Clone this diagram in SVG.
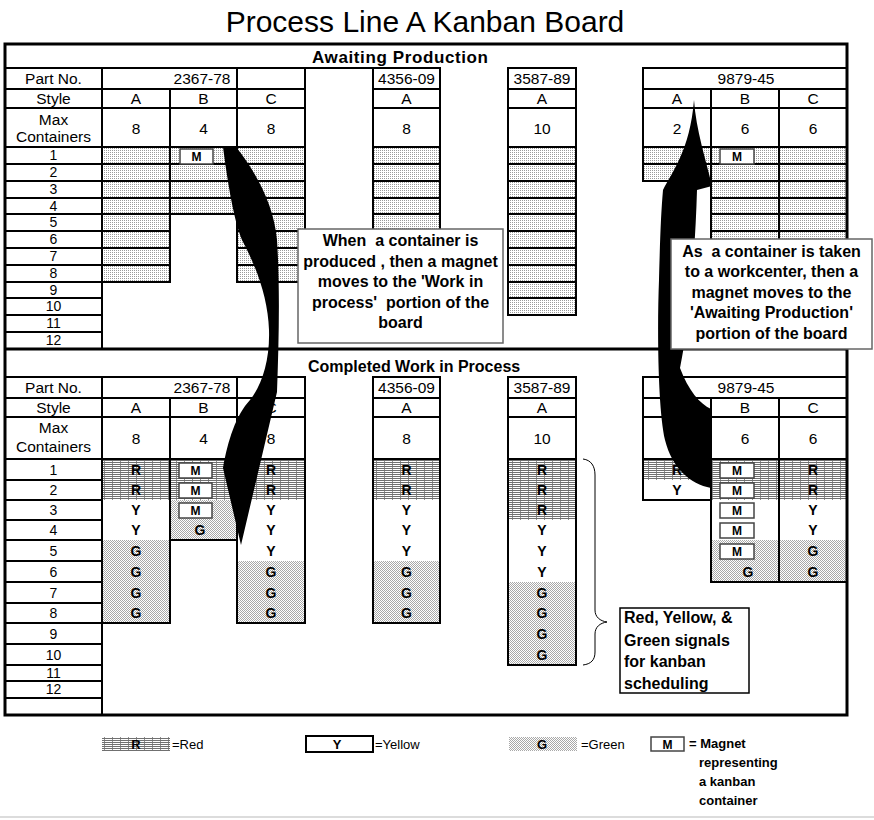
<svg xmlns="http://www.w3.org/2000/svg" width="874" height="820" viewBox="0 0 874 820">
<defs>
<pattern id="pA" width="2" height="2" patternUnits="userSpaceOnUse"><rect width="2" height="2" fill="#fff"/><rect width="1" height="1" fill="#9a9a9a"/></pattern>
<pattern id="pG" width="2" height="2" patternUnits="userSpaceOnUse"><rect width="2" height="2" fill="#fff"/><rect width="1" height="1" fill="#a8a8a8"/><rect x="1" y="1" width="1" height="1" fill="#a8a8a8"/></pattern>
<pattern id="pR" width="8" height="2" patternUnits="userSpaceOnUse"><rect width="8" height="2" fill="#fff"/><rect width="8" height="1" fill="#707070"/><rect y="1" width="1" height="1" fill="#909090"/></pattern>
<style>
.c{fill:#fff;stroke:#000;stroke-width:2}
.a{fill:url(#pA);stroke:#000;stroke-width:2}
.o{fill:none;stroke:#000;stroke-width:2}
.fr{fill:url(#pR)}
.fg{fill:url(#pG)}
text{font-family:"Liberation Sans",Arial,Helvetica,sans-serif;fill:#000}
.t{font-size:15.5px;text-anchor:middle}
.n{font-size:14px;text-anchor:middle}
.s{font-size:14px;font-weight:bold;text-anchor:middle}
.mb{fill:#fff;stroke:#444;stroke-width:1.5}
.mt{font-size:12px;font-weight:bold;text-anchor:middle}
.h{font-size:16px;font-weight:bold}
.cb{fill:#fff;stroke:#666;stroke-width:1.5}
.ct{font-size:16px;font-weight:bold;text-anchor:middle}
.ar{fill:#000}
.lg{font-size:13px}
.lb{font-size:13px;font-weight:bold}
</style>
</defs>
<rect width="874" height="820" fill="#fff"/>

<g id="title">
<text x="425" y="32" style="font-size:30px;text-anchor:middle">Process Line A Kanban Board</text>
</g>

<g id="awaiting-production">
<text class="h" x="312" y="63" style="font-size:17px" textLength="176">Awaiting Production</text>
<rect class="c" x="5" y="68" width="97" height="21"/>
<rect class="c" x="5" y="89" width="97" height="19"/>
<rect class="c" x="5" y="108" width="97" height="39"/>
<rect class="c" x="5" y="147" width="97" height="17"/>
<rect class="c" x="5" y="164" width="97" height="17"/>
<rect class="c" x="5" y="181" width="97" height="17"/>
<rect class="c" x="5" y="198" width="97" height="16"/>
<rect class="c" x="5" y="214" width="97" height="17"/>
<rect class="c" x="5" y="231" width="97" height="17"/>
<rect class="c" x="5" y="248" width="97" height="17"/>
<rect class="c" x="5" y="265" width="97" height="17"/>
<rect class="c" x="5" y="282" width="97" height="16"/>
<rect class="c" x="5" y="298" width="97" height="17"/>
<rect class="c" x="5" y="315" width="97" height="17"/>
<rect class="c" x="5" y="332" width="97" height="17"/>
<text class="t" x="53.5" y="84">Part No.</text>
<text class="t" x="53.5" y="104">Style</text>
<text class="t" x="53.5" y="125">Max</text>
<text class="t" x="53.5" y="142">Containers</text>
<text class="n" x="53.5" y="160">1</text>
<text class="n" x="53.5" y="177">2</text>
<text class="n" x="53.5" y="194">3</text>
<text class="n" x="53.5" y="210.5">4</text>
<text class="n" x="53.5" y="227">5</text>
<text class="n" x="53.5" y="244">6</text>
<text class="n" x="53.5" y="261">7</text>
<text class="n" x="53.5" y="278">8</text>
<text class="n" x="53.5" y="294.5">9</text>
<text class="n" x="53.5" y="311">10</text>
<text class="n" x="53.5" y="328">11</text>
<text class="n" x="53.5" y="345">12</text>
<rect class="c" x="102" y="68" width="135" height="21"/>
<rect class="c" x="237" y="68" width="68" height="21"/>
<rect class="c" x="102" y="89" width="68" height="19"/>
<rect class="c" x="170" y="89" width="67" height="19"/>
<rect class="c" x="237" y="89" width="68" height="19"/>
<rect class="c" x="102" y="108" width="68" height="39"/>
<rect class="c" x="170" y="108" width="67" height="39"/>
<rect class="c" x="237" y="108" width="68" height="39"/>
<text class="t" x="202" y="84">2367-78</text>
<text class="t" x="136" y="104">A</text>
<text class="t" x="203.5" y="104">B</text>
<text class="t" x="271" y="104">C</text>
<text class="t" x="136" y="134">8</text>
<text class="t" x="203.5" y="134">4</text>
<text class="t" x="271" y="134">8</text>
<rect class="a" x="102" y="147" width="68" height="17"/>
<rect class="a" x="102" y="164" width="68" height="17"/>
<rect class="a" x="102" y="181" width="68" height="17"/>
<rect class="a" x="102" y="198" width="68" height="16"/>
<rect class="a" x="102" y="214" width="68" height="17"/>
<rect class="a" x="102" y="231" width="68" height="17"/>
<rect class="a" x="102" y="248" width="68" height="17"/>
<rect class="a" x="102" y="265" width="68" height="17"/>
<rect class="a" x="170" y="147" width="67" height="17"/>
<rect class="a" x="170" y="164" width="67" height="17"/>
<rect class="a" x="170" y="181" width="67" height="17"/>
<rect class="a" x="170" y="198" width="67" height="16"/>
<rect class="a" x="237" y="147" width="68" height="17"/>
<rect class="a" x="237" y="164" width="68" height="17"/>
<rect class="a" x="237" y="181" width="68" height="17"/>
<rect class="a" x="237" y="198" width="68" height="16"/>
<rect class="a" x="237" y="214" width="68" height="17"/>
<rect class="a" x="237" y="231" width="68" height="17"/>
<rect class="a" x="237" y="248" width="68" height="17"/>
<rect class="a" x="237" y="265" width="68" height="17"/>
<rect class="o" x="305" y="68" width="68" height="214"/>
<rect class="c" x="373" y="68" width="67" height="21"/>
<rect class="c" x="373" y="89" width="67" height="19"/>
<rect class="c" x="373" y="108" width="67" height="39"/>
<text class="t" x="406.5" y="84">4356-09</text>
<text class="t" x="406.5" y="104">A</text>
<text class="t" x="406.5" y="134">8</text>
<rect class="a" x="373" y="147" width="67" height="17"/>
<rect class="a" x="373" y="164" width="67" height="17"/>
<rect class="a" x="373" y="181" width="67" height="17"/>
<rect class="a" x="373" y="198" width="67" height="16"/>
<rect class="a" x="373" y="214" width="67" height="17"/>
<rect class="a" x="373" y="231" width="67" height="17"/>
<rect class="a" x="373" y="248" width="67" height="17"/>
<rect class="a" x="373" y="265" width="67" height="17"/>
<rect class="c" x="508" y="68" width="68" height="21"/>
<rect class="c" x="508" y="89" width="68" height="19"/>
<rect class="c" x="508" y="108" width="68" height="39"/>
<text class="t" x="542" y="84">3587-89</text>
<text class="t" x="542" y="104">A</text>
<text class="t" x="542" y="134">10</text>
<rect class="a" x="508" y="147" width="68" height="17"/>
<rect class="a" x="508" y="164" width="68" height="17"/>
<rect class="a" x="508" y="181" width="68" height="17"/>
<rect class="a" x="508" y="198" width="68" height="16"/>
<rect class="a" x="508" y="214" width="68" height="17"/>
<rect class="a" x="508" y="231" width="68" height="17"/>
<rect class="a" x="508" y="248" width="68" height="17"/>
<rect class="a" x="508" y="265" width="68" height="17"/>
<rect class="a" x="508" y="282" width="68" height="16"/>
<rect class="a" x="508" y="298" width="68" height="17"/>
<rect class="c" x="643" y="68" width="204" height="21"/>
<rect class="c" x="643" y="89" width="68" height="19"/>
<rect class="c" x="711" y="89" width="68" height="19"/>
<rect class="c" x="779" y="89" width="68" height="19"/>
<rect class="c" x="643" y="108" width="68" height="39"/>
<rect class="c" x="711" y="108" width="68" height="39"/>
<rect class="c" x="779" y="108" width="68" height="39"/>
<text class="t" x="746" y="84">9879-45</text>
<text class="t" x="677" y="104">A</text>
<text class="t" x="745" y="104">B</text>
<text class="t" x="813" y="104">C</text>
<text class="t" x="677" y="134">2</text>
<text class="t" x="745" y="134">6</text>
<text class="t" x="813" y="134">6</text>
<rect class="a" x="643" y="147" width="68" height="17"/>
<rect class="a" x="643" y="164" width="68" height="17"/>
<rect class="a" x="711" y="147" width="68" height="17"/>
<rect class="a" x="711" y="164" width="68" height="17"/>
<rect class="a" x="711" y="181" width="68" height="17"/>
<rect class="a" x="711" y="198" width="68" height="16"/>
<rect class="a" x="711" y="214" width="68" height="17"/>
<rect class="a" x="711" y="231" width="68" height="17"/>
<rect class="a" x="779" y="147" width="68" height="17"/>
<rect class="a" x="779" y="164" width="68" height="17"/>
<rect class="a" x="779" y="181" width="68" height="17"/>
<rect class="a" x="779" y="198" width="68" height="16"/>
<rect class="a" x="779" y="214" width="68" height="17"/>
<rect class="a" x="779" y="231" width="68" height="17"/>
<rect class="mb" x="180" y="149" width="33" height="15"/>
<text class="mt" x="196.5" y="161">M</text>
<rect class="mb" x="720" y="149" width="34" height="15"/>
<text class="mt" x="737" y="161">M</text>
</g>

<g id="completed-wip">
<text class="h" x="308" y="372">Completed Work in Process</text>
<rect class="c" x="5" y="377" width="97" height="21"/>
<rect class="c" x="5" y="398" width="97" height="19"/>
<rect class="c" x="5" y="417" width="97" height="42"/>
<rect class="c" x="5" y="459" width="97" height="21"/>
<rect class="c" x="5" y="480" width="97" height="20"/>
<rect class="c" x="5" y="500" width="97" height="20"/>
<rect class="c" x="5" y="520" width="97" height="20"/>
<rect class="c" x="5" y="540" width="97" height="21"/>
<rect class="c" x="5" y="561" width="97" height="21"/>
<rect class="c" x="5" y="582" width="97" height="21"/>
<rect class="c" x="5" y="603" width="97" height="20"/>
<rect class="c" x="5" y="623" width="97" height="21"/>
<rect class="c" x="5" y="644" width="97" height="21"/>
<rect class="c" x="5" y="665" width="97" height="16"/>
<rect class="c" x="5" y="681" width="97" height="17"/>
<rect class="c" x="5" y="698" width="97" height="17"/>
<text class="t" x="53.5" y="393">Part No.</text>
<text class="t" x="53.5" y="413">Style</text>
<text class="t" x="53.5" y="433">Max</text>
<text class="t" x="53.5" y="452">Containers</text>
<text class="n" x="53.5" y="474.5">1</text>
<text class="n" x="53.5" y="495">2</text>
<text class="n" x="53.5" y="515">3</text>
<text class="n" x="53.5" y="535">4</text>
<text class="n" x="53.5" y="555.5">5</text>
<text class="n" x="53.5" y="576.5">6</text>
<text class="n" x="53.5" y="597.5">7</text>
<text class="n" x="53.5" y="618">8</text>
<text class="n" x="53.5" y="638.5">9</text>
<text class="n" x="53.5" y="659.5">10</text>
<text class="n" x="53.5" y="677.5">11</text>
<text class="n" x="53.5" y="694">12</text>
<rect class="c" x="102" y="377" width="135" height="21"/>
<rect class="c" x="237" y="377" width="68" height="21"/>
<rect class="c" x="102" y="398" width="68" height="19"/>
<rect class="c" x="170" y="398" width="67" height="19"/>
<rect class="c" x="237" y="398" width="68" height="19"/>
<rect class="c" x="102" y="417" width="68" height="42"/>
<rect class="c" x="170" y="417" width="67" height="42"/>
<rect class="c" x="237" y="417" width="68" height="42"/>
<text class="t" x="202" y="393">2367-78</text>
<text class="t" x="136" y="413">A</text>
<text class="t" x="203.5" y="413">B</text>
<text class="t" x="271" y="413">C</text>
<text class="t" x="136" y="444">8</text>
<text class="t" x="203.5" y="444">4</text>
<text class="t" x="271" y="444">8</text>
<rect class="fr" x="102" y="459" width="68" height="41"/>
<rect class="fg" x="102" y="540" width="68" height="83"/>
<rect class="fr" x="170" y="459" width="67" height="41"/>
<rect class="fg" x="170" y="500" width="67" height="40"/>
<rect class="fr" x="237" y="459" width="68" height="41"/>
<rect class="fg" x="237" y="561" width="68" height="62"/>
<rect class="o" x="102" y="459" width="68" height="164"/>
<rect class="o" x="170" y="459" width="67" height="81"/>
<rect class="o" x="237" y="459" width="68" height="164"/>
<line x1="305" y1="377" x2="305" y2="623" stroke="#000" stroke-width="2"/>
<text class="s" x="136" y="474.5">R</text>
<text class="s" x="136" y="495">R</text>
<text class="s" x="136" y="515">Y</text>
<text class="s" x="136" y="535">Y</text>
<text class="s" x="136" y="555.5">G</text>
<text class="s" x="136" y="576.5">G</text>
<text class="s" x="136" y="597.5">G</text>
<text class="s" x="136" y="618">G</text>
<text class="s" x="200" y="535">G</text>
<text class="s" x="271" y="474.5">R</text>
<text class="s" x="271" y="495">R</text>
<text class="s" x="271" y="515">Y</text>
<text class="s" x="271" y="535">Y</text>
<text class="s" x="271" y="555.5">Y</text>
<text class="s" x="271" y="576.5">G</text>
<text class="s" x="271" y="597.5">G</text>
<text class="s" x="271" y="618">G</text>
<rect class="mb" x="179" y="463" width="33" height="15"/>
<text class="mt" x="195.5" y="475">M</text>
<rect class="mb" x="179" y="483" width="33" height="15"/>
<text class="mt" x="195.5" y="495">M</text>
<rect class="mb" x="179" y="503" width="33" height="15"/>
<text class="mt" x="195.5" y="515">M</text>
<rect class="c" x="373" y="377" width="67" height="21"/>
<rect class="c" x="373" y="398" width="67" height="19"/>
<rect class="c" x="373" y="417" width="67" height="42"/>
<text class="t" x="406.5" y="393">4356-09</text>
<text class="t" x="406.5" y="413">A</text>
<text class="t" x="406.5" y="444">8</text>
<rect class="fr" x="373" y="459" width="67" height="41"/>
<rect class="fg" x="373" y="561" width="67" height="62"/>
<rect class="o" x="373" y="459" width="67" height="164"/>
<text class="s" x="406.5" y="474.5">R</text>
<text class="s" x="406.5" y="495">R</text>
<text class="s" x="406.5" y="515">Y</text>
<text class="s" x="406.5" y="535">Y</text>
<text class="s" x="406.5" y="555.5">Y</text>
<text class="s" x="406.5" y="576.5">G</text>
<text class="s" x="406.5" y="597.5">G</text>
<text class="s" x="406.5" y="618">G</text>
<rect class="c" x="508" y="377" width="68" height="21"/>
<rect class="c" x="508" y="398" width="68" height="19"/>
<rect class="c" x="508" y="417" width="68" height="42"/>
<text class="t" x="542" y="393">3587-89</text>
<text class="t" x="542" y="413">A</text>
<text class="t" x="542" y="444">10</text>
<rect class="fr" x="508" y="459" width="68" height="61"/>
<rect class="fg" x="508" y="582" width="68" height="83"/>
<rect class="o" x="508" y="459" width="68" height="206"/>
<text class="s" x="542" y="474.5">R</text>
<text class="s" x="542" y="495">R</text>
<text class="s" x="542" y="515">R</text>
<text class="s" x="542" y="535">Y</text>
<text class="s" x="542" y="555.5">Y</text>
<text class="s" x="542" y="576.5">Y</text>
<text class="s" x="542" y="597.5">G</text>
<text class="s" x="542" y="618">G</text>
<text class="s" x="542" y="638.5">G</text>
<text class="s" x="542" y="659.5">G</text>
<rect class="c" x="643" y="377" width="204" height="21"/>
<rect class="c" x="643" y="398" width="68" height="19"/>
<rect class="c" x="711" y="398" width="68" height="19"/>
<rect class="c" x="779" y="398" width="68" height="19"/>
<rect class="c" x="643" y="417" width="68" height="42"/>
<rect class="c" x="711" y="417" width="68" height="42"/>
<rect class="c" x="779" y="417" width="68" height="42"/>
<text class="t" x="746" y="393">9879-45</text>
<text class="t" x="745" y="413">B</text>
<text class="t" x="813" y="413">C</text>
<text class="t" x="745" y="444">6</text>
<text class="t" x="813" y="444">6</text>
<rect class="fr" x="643" y="459" width="68" height="21"/>
<rect class="fr" x="711" y="459" width="68" height="41"/>
<rect class="fg" x="711" y="540" width="68" height="42"/>
<rect class="fr" x="779" y="459" width="68" height="41"/>
<rect class="fg" x="779" y="540" width="68" height="42"/>
<rect class="o" x="643" y="459" width="68" height="41"/>
<rect class="o" x="711" y="459" width="68" height="123"/>
<rect class="o" x="779" y="459" width="68" height="123"/>
<text class="s" x="677" y="474.5">R</text>
<text class="s" x="677" y="495">Y</text>
<text class="s" x="748" y="576.5">G</text>
<text class="s" x="813" y="474.5">R</text>
<text class="s" x="813" y="495">R</text>
<text class="s" x="813" y="515">Y</text>
<text class="s" x="813" y="535">Y</text>
<text class="s" x="813" y="555.5">G</text>
<text class="s" x="813" y="576.5">G</text>
<rect class="mb" x="720" y="463" width="34" height="15"/>
<text class="mt" x="737" y="475">M</text>
<rect class="mb" x="720" y="483" width="34" height="15"/>
<text class="mt" x="737" y="495">M</text>
<rect class="mb" x="720" y="503" width="34" height="15"/>
<text class="mt" x="737" y="515">M</text>
<rect class="mb" x="720" y="523" width="34" height="15"/>
<text class="mt" x="737" y="535">M</text>
<rect class="mb" x="720" y="544" width="34" height="15"/>
<text class="mt" x="737" y="556">M</text>
</g>

<g id="frame">
<rect x="5" y="44" width="842" height="671" fill="none" stroke="#000" stroke-width="3"/>
<line x1="5" y1="349" x2="847" y2="349" stroke="#000" stroke-width="3"/>
</g>

<g id="connectors">
<path class="ar" d="M223,147 L236,147 C256,172 274,205 277,240 C280,285 279,340 277,392 L241,545 L223,468 C228,440 236,415 250,400 C262,385 270,360 269,330 C268,300 258,270 242,240 C234,220 228,185 223,147 Z"/>
<path class="ar" d="M694,100 C696,130 706,160 712,186 L697,190 C695,260 688,330 680,368 C688,390 700,404 711,409 L711,488 C690,484 672,468 665,440 C658,410 657,330 659,280 C660,240 661,212 663,190 C672,172 690,150 694,100 Z"/>
<path d="M583,459 C591,460 595,466 595,475 L595,610 C595,617 600,621 607,622 C600,623 595,627 595,634 L595,652 C595,660 591,664 583,665" fill="none" stroke="#000" stroke-width="1"/>
</g>

<g id="callout-produced">
<rect class="cb" x="298" y="229" width="205" height="114"/>
<text class="ct" x="400.5" y="246" xml:space="preserve">When  a container is</text>
<text class="ct" x="400.5" y="266.5">produced , then a magnet</text>
<text class="ct" x="400.5" y="287">moves to the 'Work in</text>
<text class="ct" x="400.5" y="307.5" xml:space="preserve">process'  portion of the</text>
<text class="ct" x="400.5" y="328">board</text>
</g>

<g id="callout-taken">
<rect class="cb" x="671" y="239" width="201" height="110"/>
<text class="ct" x="771.5" y="256.5" xml:space="preserve">As  a container is taken</text>
<text class="ct" x="771.5" y="277">to a workcenter, then a</text>
<text class="ct" x="771.5" y="297.5">magnet moves to the</text>
<text class="ct" x="771.5" y="318">'Awaiting Production'</text>
<text class="ct" x="771.5" y="338.5">portion of the board</text>
</g>

<g id="callout-signals">
<rect x="620" y="608" width="129" height="85" fill="#fff" stroke="#000" stroke-width="1.5"/>
<text class="h" x="624" y="623">Red, Yellow, &amp;</text>
<text class="h" x="624" y="645.5">Green signals</text>
<text class="h" x="624" y="667">for kanban</text>
<text class="h" x="624" y="688.5">scheduling</text>
</g>

<g id="legend">
<rect class="fr" x="102" y="737" width="68" height="14"/>
<text class="lb" x="136" y="749" style="text-anchor:middle">R</text>
<text class="lg" x="172" y="749">=Red</text>
<rect x="306" y="736" width="67" height="16" fill="#fff" stroke="#000" stroke-width="2"/>
<text class="lb" x="337" y="749" style="text-anchor:middle">Y</text>
<text class="lg" x="375" y="749">=Yellow</text>
<rect class="fg" x="509" y="737" width="68" height="14"/>
<text class="lb" x="542" y="749" style="text-anchor:middle">G</text>
<text class="lg" x="581" y="749">=Green</text>
<rect class="mb" x="651" y="737" width="33" height="14"/>
<text class="mt" x="667.5" y="748.5">M</text>
<text class="lb" x="689" y="748">= Magnet</text>
<text class="lb" x="699" y="767">representing</text>
<text class="lb" x="699" y="786">a kanban</text>
<text class="lb" x="699" y="805">container</text>
<line x1="0" y1="817" x2="874" y2="817" stroke="#d0d0d0" stroke-width="1.5"/>
</g>
</svg>
